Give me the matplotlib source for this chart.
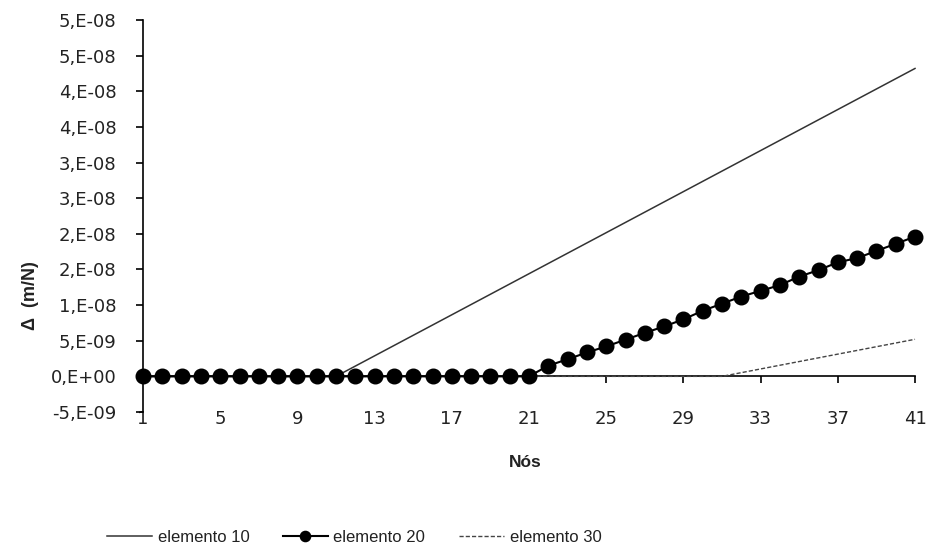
import numpy as np
import matplotlib
matplotlib.use("Agg")
import matplotlib.pyplot as plt

# nodes 1..41
nodes = list(range(1, 42))

# elemento 10: zero up to node 11, then rising linearly
elem10 = [0.0] * 11 + [round((n - 11) * 1.44e-9, 13) for n in range(12, 42)]

# elemento 20: zero up to node 21, values
elem20 = [0.0] * 21 + [
    1.5e-9, 2.4e-9, 3.35e-9, 4.2e-9, 5.15e-9, 6.1e-9, 7.0e-9, 8.0e-9, 9.2e-9,
    10.2e-9, 11.2e-9, 12.0e-9, 12.8e-9, 14.0e-9, 14.9e-9, 16.0e-9, 16.6e-9,
    17.6e-9, 18.6e-9, 19.6e-9,
]

# elemento 30: zero up to node 31
elem30 = [0.0] * 31 + [round((n - 31) * 0.52e-9, 13) for n in range(32, 42)]

xticks = [1, 5, 9, 13, 17, 21, 25, 29, 33, 37, 41]
yticks = [-5e-9, 0, 5e-9, 1e-8, 1.5e-8, 2e-8, 2.5e-8, 3e-8, 3.5e-8, 4e-8, 4.5e-8, 5e-8]
ytick_labels = ['-5,E-09', '0,E+00', '5,E-09', '1,E-08', '2,E-08', '2,E-08',
                '3,E-08', '3,E-08', '4,E-08', '4,E-08', '5,E-08', '5,E-08']

plt.rcParams['font.family'] = ['Liberation Sans', 'DejaVu Sans']
txt = '#222222'

fig = plt.figure(figsize=(9.27, 5.54), dpi=100)
ax = fig.add_axes([143 / 927, 1 - 412 / 554, (915 - 143) / 927, (412 - 20) / 554])

ax.plot(nodes, elem10, color='#333333', lw=1.1, label='elemento 10', clip_on=False, zorder=3)
ax.plot(nodes, elem20, color='black', lw=1.5, marker='o', markersize=10.5,
        label='elemento 20', clip_on=False, zorder=5)
ax.plot(nodes, elem30, color='#444444', lw=1.0, ls=(0, (3, 1.5)), label='elemento 30',
        clip_on=False, zorder=4)

ax.set_xlim(1, 41)
ax.set_ylim(-5e-9, 5e-8)

ax.spines['top'].set_visible(False)
ax.spines['right'].set_visible(False)
ax.spines['bottom'].set_position(('data', 0))
ax.spines['left'].set_linewidth(1.2)
ax.spines['bottom'].set_linewidth(1.2)

tickfont = dict(family=['DejaVu Sans'], size=13, color=txt)
ax.set_xticks(xticks)
ax.set_xticklabels([str(v) for v in xticks], **tickfont)
ax.tick_params(axis='x', direction='out', length=5, width=1.2, pad=19)
ax.set_yticks(yticks)
ax.set_yticklabels(ytick_labels, **tickfont)
ax.tick_params(axis='y', direction='out', length=5, width=1.2, pad=14)

ax.set_ylabel('Δ  (m/N)', fontsize=13, fontweight='bold', color=txt)
ax.yaxis.set_label_coords(-0.135, 0.296)
ax.set_xlabel('Nós', fontsize=12.5, fontweight='bold', color=txt)
ax.xaxis.set_label_coords(0.495, -0.11)

fig.legend(loc='center', bbox_to_anchor=(354 / 927, 1 - 537 / 554), ncol=3,
           frameon=False, fontsize=12, handlelength=2.7, columnspacing=2.0,
           handletextpad=0.35, markerscale=0.7, labelcolor=txt)

fig.savefig('out.png', dpi=100)
